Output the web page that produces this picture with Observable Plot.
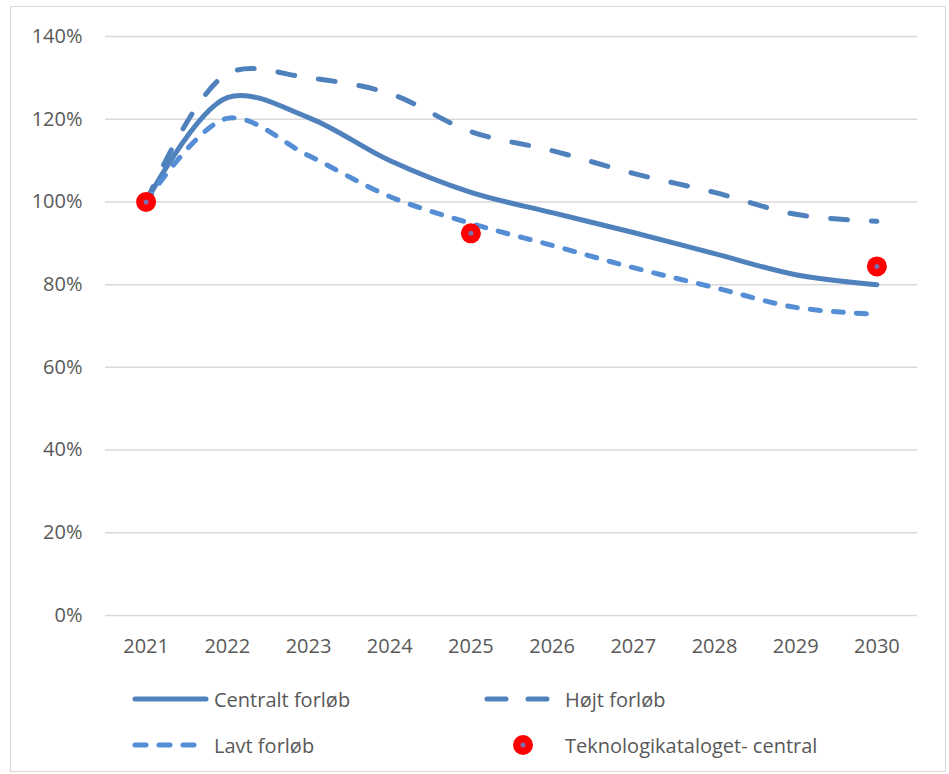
<!DOCTYPE html>
<html>
<head>
<meta charset="utf-8">
<script src="https://cdn.jsdelivr.net/npm/d3@7"></script>
<script src="https://cdn.jsdelivr.net/npm/@observablehq/plot@0.6"></script>
<style>
  html, body { margin: 0; padding: 0; background: #fff; }
  #wrap { position: relative; width: 949px; height: 774px; overflow: hidden; font-family: "Open Sans", sans-serif; color: #595959; }
  #border { position: absolute; left: 10px; top: 6px; width: 934px; height: 764px; border: 1.5px solid #d9d9d9; }
  #chart { position: absolute; left: 0; top: 0; }
  .leg { position: absolute; height: 30px; display: flex; align-items: center; font-size: 20px; white-space: nowrap; }
  .leg svg { display: block; }
</style>
</head>
<body>
<div id="wrap">
  <div id="border"></div>
  <div id="chart"></div>
  <div id="legend"></div>
</div>
<script>
// ---- data ----
const years = [2021, 2022, 2023, 2024, 2025, 2026, 2027, 2028, 2029, 2030];
const centralt = [1.00, 1.252, 1.204, 1.10, 1.023, 0.974, 0.926, 0.875, 0.824, 0.80];
const hoejt    = [1.00, 1.31, 1.30, 1.262, 1.17, 1.124, 1.069, 1.023, 0.97, 0.953];
const lavt     = [1.00, 1.202, 1.112, 1.013, 0.948, 0.895, 0.841, 0.793, 0.745, 0.728];
const teknoYears = [2021, 2025, 2030];
const teknoValues = [1.00, 0.924, 0.844];
const yTicks = [0, 0.2, 0.4, 0.6, 0.8, 1.0, 1.2, 1.4];
const seriesNames = ["Centralt forløb", "Højt forløb", "Lavt forløb", "Teknologikataloget- central"];

// ---- tables ----
const rows = (vals) => years.map((yr, i) => ({ year: yr, value: vals[i] }));
const central = rows(centralt), high = rows(hoejt), low = rows(lavt);
const tekno = teknoYears.map((yr, i) => ({ year: yr, value: teknoValues[i] }));

const blue = "#4f81bd", lightBlue = "#558ed5";

const chart = Plot.plot({
  width: 949,
  height: 660,
  marginLeft: 105,
  marginRight: 32,
  marginTop: 36,
  marginBottom: 45,
  style: { fontFamily: "'Open Sans', sans-serif", fontSize: "20px", color: "#595959", background: "transparent", overflow: "visible" },
  x: { type: "linear", domain: [2020.5, 2030.5], label: null },
  y: { domain: [0, 1.4], label: null },
  marks: [
    Plot.ruleY(yTicks, { stroke: "#d9d9d9", strokeWidth: 1.5 }),
    Plot.axisX({ ticks: years, tickFormat: d => String(d), tickSize: 0, tickPadding: 23, label: null, fill: "#595959" }),
    Plot.axisY({ ticks: yTicks, tickFormat: d3.format(".0%"), tickSize: 0, tickPadding: 23, label: null, fill: "#595959" }),
    Plot.line(central, { x: "year", y: "value", curve: "catmull-rom", stroke: blue, strokeWidth: 5, strokeLinecap: "round" }),
    Plot.line(high, { x: "year", y: "value", curve: "catmull-rom", stroke: blue, strokeWidth: 5, strokeLinecap: "round", strokeDasharray: "17,24" }),
    Plot.line(low, { x: "year", y: "value", curve: "catmull-rom", stroke: lightBlue, strokeWidth: 5, strokeLinecap: "round", strokeDasharray: "10,13" }),
    Plot.dot(tekno, { x: "year", y: "value", r: 10, fill: "#ff0000", stroke: "none" }),
    Plot.dot(tekno, { x: "year", y: "value", r: 2.5, fill: "#7b6fb0", stroke: "none" })
  ]
});
document.getElementById("chart").appendChild(chart);

// ---- legend (HTML) ----
const legend = document.getElementById("legend");
const ns = "http://www.w3.org/2000/svg";
function item(left, centerY, sampleW, gap, drawSample, label) {
  const div = document.createElement("div");
  div.className = "leg";
  div.style.left = left + "px";
  div.style.top = (centerY - 15) + "px";
  const svg = document.createElementNS(ns, "svg");
  svg.setAttribute("width", sampleW);
  svg.setAttribute("height", 30);
  drawSample(svg, sampleW);
  div.appendChild(svg);
  const span = document.createElement("span");
  span.textContent = label;
  span.style.marginLeft = gap + "px";
  div.appendChild(span);
  legend.appendChild(div);
}
function lineSample(color, dash) {
  return (svg, w) => {
    const l = document.createElementNS(ns, "line");
    l.setAttribute("x1", 3); l.setAttribute("x2", w - 3);
    l.setAttribute("y1", 15); l.setAttribute("y2", 15);
    l.setAttribute("stroke", color); l.setAttribute("stroke-width", 5);
    l.setAttribute("stroke-linecap", "round");
    if (dash) l.setAttribute("stroke-dasharray", dash);
    svg.appendChild(l);
  };
}
function dotSample(svg, w) {
  const c = document.createElementNS(ns, "circle");
  c.setAttribute("cx", w / 2); c.setAttribute("cy", 15); c.setAttribute("r", 10); c.setAttribute("fill", "#ff0000");
  svg.appendChild(c);
  const c2 = document.createElementNS(ns, "circle");
  c2.setAttribute("cx", w / 2); c2.setAttribute("cy", 15); c2.setAttribute("r", 2.5); c2.setAttribute("fill", "#7b6fb0");
  svg.appendChild(c2);
}
item(132, 699, 77, 5, lineSample(blue, null), seriesNames[0]);
item(484, 699, 71, 10, lineSample(blue, "19,22"), seriesNames[1]);
item(132, 745, 71, 11, lineSample(lightBlue, "11,13"), seriesNames[2]);
item(509, 745, 28, 28, dotSample, seriesNames[3]);
</script>
</body>
</html>
